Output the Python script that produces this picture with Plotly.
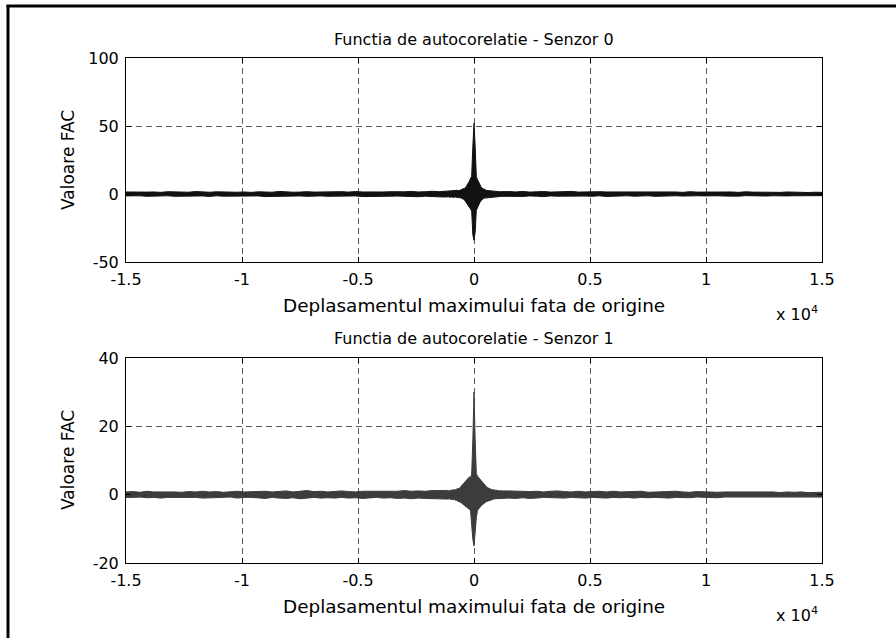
import plotly.graph_objects as go

# ---------------- data ----------------
# lag bins (samples): coarse outside the centre, finer around lag 0
lags_left = list(range(-15000, -1200, 300))      # 46 bins
lags_center = list(range(-1200, 1201, 50))       # 49 bins
lags_right = list(range(1500, 15001, 300))       # 46 bins
lags = lags_left + lags_center + lags_right

# Sensor 0 : upper / lower envelope of FAC in each bin
s0_up_left = [1.5,1.3,1.6,1.4,1.5,1.2,1.7,1.4,1.5,1.3, 1.8,1.4,1.3,1.6,1.4,1.7,1.3,1.5,1.2,1.6,
              1.4,1.3,1.9,1.5,1.3,1.4,1.7,1.4,1.6,1.3, 1.5,1.7,1.4,1.8,1.5,1.4,1.6,1.5,1.7,1.5,
              1.6,1.9,1.5,1.7,2.0,1.7]
s0_lo_left = [-1.4,-1.6,-1.3,-1.7,-1.4,-1.5,-1.3,-1.7,-1.5,-1.4, -1.6,-1.4,-1.8,-1.3,-1.6,-1.5,-1.7,-1.4,-1.5,-1.4,
              -1.9,-1.5,-1.4,-1.6,-1.5,-1.4,-1.7,-1.6,-1.4,-1.7, -1.5,-1.8,-1.5,-1.4,-1.9,-1.6,-1.5,-1.7,-1.6,-1.5,
              -1.9,-1.7,-2.0,-1.6,-1.8,-2.1]
s0_up_center = [2.1,2.3,2.0,2.4,2.2,2.3,2.1,2.5,2.3,2.4,2.7,2.4,2.8,3.1,3.0,3.6,4.3,5.0,6.2,7.6,9.4,11.5,13.0,35.0,
                52.0,
                35.0,12.5,10.6,8.6,6.8,5.3,4.2,3.6,3.1,3.0,2.6,2.5,2.6,2.2,2.4,2.0,2.2,1.9,2.1,1.8,2.0,1.7,1.9,1.7]
s0_lo_center = [-2.2,-2.4,-2.0,-2.4,-2.3,-2.1,-2.5,-2.3,-2.2,-2.6,-2.4,-2.7,-2.6,-3.0,-3.4,-3.9,-4.6,-5.5,-6.6,-8.0,-9.6,-11.0,-12.5,-30.0,
                -34.0,
                -28.0,-12.0,-10.0,-8.2,-6.4,-5.0,-4.0,-3.4,-3.0,-2.8,-2.6,-2.6,-2.3,-2.4,-2.1,-2.2,-2.0,-1.9,-2.0,-1.8,-1.9,-1.7,-1.8,-1.7]
s0_up_right = [1.8,1.5,1.9,1.4,1.6,1.8,1.4,1.7,1.5,1.9, 1.4,1.6,1.3,1.7,1.5,1.5,1.3,1.8,1.4,1.6,
               1.3,1.5,1.7,1.3,1.5,1.2,1.7,1.4,1.5,1.3, 1.6,1.3,1.5,1.2,1.6,1.4,1.3,1.5,1.3,1.2,
               1.5,1.3,1.4,1.1,1.3,1.2]
s0_lo_right = [-1.7,-1.5,-1.8,-1.4,-1.6,-1.9,-1.4,-1.6,-1.8,-1.4, -1.6,-1.5,-1.7,-1.3,-1.8,-1.4,-1.5,-1.3,-1.6,-1.5,
               -1.3,-1.7,-1.4,-1.5,-1.3,-1.5,-1.6,-1.3,-1.4,-1.5, -1.3,-1.5,-1.3,-1.6,-1.2,-1.4,-1.3,-1.5,-1.3,-1.2,
               -1.4,-1.3,-1.2,-1.3,-1.1,-1.2]

# Sensor 1
s1_up_left = [0.8,0.9,0.7,1.0,0.8,0.8,1.0,0.8,0.7,0.9, 0.8,1.0,0.8,0.9,0.7,0.8,1.0,0.8,0.9,0.8,
              1.0,0.8,0.9,1.1,0.8,1.0,1.2,0.9,1.0,0.8, 1.0,1.1,0.9,0.8,1.0,1.0,0.9,1.1,1.0,1.0,
              1.2,1.0,1.1,1.0,1.2,1.1]
s1_lo_left = [-0.8,-0.8,-0.7,-0.9,-0.8,-1.0,-0.8,-0.7,-0.9,-0.8, -0.8,-1.0,-0.8,-0.9,-0.8,-0.7,-1.0,-0.8,-0.8,-0.9,
              -1.1,-0.8,-1.0,-1.1,-0.9,-1.2,-1.0,-0.8,-1.0,-0.9, -1.0,-0.8,-1.0,-0.9,-1.1,-1.0,-0.8,-1.0,-0.9,-1.1,
              -1.0,-1.2,-1.0,-1.1,-1.3,-1.2]
s1_up_center = [1.2,1.3,1.1,1.3,1.2,1.4,1.3,1.5,1.4,1.6,1.8,1.7,2.1,2.4,2.7,3.0,3.4,3.8,4.3,4.7,5.2,5.0,6.0,16.0,
                30.0,
                16.0,6.2,5.4,5.0,4.5,4.0,3.5,3.1,2.8,2.5,2.2,2.0,1.8,1.6,1.5,1.5,1.3,1.3,1.3,1.2,1.2,1.1,1.2,1.1]
s1_lo_center = [-1.2,-1.3,-1.3,-1.2,-1.4,-1.3,-1.5,-1.4,-1.6,-1.7,-1.7,-2.0,-2.2,-2.4,-2.7,-2.9,-3.2,-3.5,-3.8,-4.0,-4.3,-4.6,-7.0,-13.0,
                -15.0,
                -12.5,-6.8,-4.6,-4.1,-3.7,-3.3,-3.0,-2.7,-2.4,-2.2,-2.0,-1.8,-1.7,-1.5,-1.4,-1.4,-1.3,-1.2,-1.2,-1.1,-1.2,-1.0,-1.1,-1.0]
s1_up_right = [1.1,1.0,1.1,0.9,1.0,0.8,1.0,1.1,0.9,0.8, 1.0,0.8,0.9,1.0,0.8,1.0,0.8,0.9,0.8,1.0,
               0.7,0.8,0.9,0.8,1.0,0.8,0.7,0.9,0.8,0.8, 0.7,0.8,0.8,0.9,0.7,0.8,0.8,0.7,0.8,0.6,
               0.8,0.7,0.8,0.6,0.7,0.7]
s1_lo_right = [-1.0,-1.1,-0.9,-1.1,-1.0,-0.8,-1.0,-0.9,-1.0,-0.8, -0.9,-1.0,-0.8,-0.9,-1.0,-0.8,-0.9,-0.8,-1.0,-0.8,
               -0.9,-0.8,-0.8,-1.0,-0.8,-0.8,-0.9,-0.7,-0.8,-0.8, -0.9,-0.7,-0.8,-0.8,-0.7,-0.8,-0.8,-0.7,-0.8,-0.6,
               -0.8,-0.7,-0.8,-0.6,-0.7,-0.7]

s0_up = s0_up_left + s0_up_center + s0_up_right
s0_lo = s0_lo_left + s0_lo_center + s0_lo_right
s1_up = s1_up_left + s1_up_center + s1_up_right
s1_lo = s1_lo_left + s1_lo_center + s1_lo_right
for arr in (s0_up, s0_lo, s1_up, s1_lo):
    assert len(arr) == len(lags), len(arr)

x_tickvals = [-15000, -10000, -5000, 0, 5000, 10000, 15000]
x_ticktext = ['-1.5', '-1', '-0.5', '0', '0.5', '1', '1.5']
y0_tickvals = [-50, 0, 50, 100]
y0_ticktext = ['-50', '0', '50', '100']
y1_tickvals = [-20, 0, 20, 40]
y1_ticktext = ['-20', '0', '20', '40']

titles = ['Functia de autocorelatie - Senzor 0', 'Functia de autocorelatie - Senzor 1']
xlabel = 'Deplasamentul maximului fata de origine'
ylabel = 'Valoare FAC'


def band(up, lo):
    """closed outline: upper envelope left->right, lower envelope right->left"""
    xs = list(lags) + list(reversed(lags)) + [lags[0]]
    ys = list(up) + list(reversed(lo)) + [up[0]]
    return xs, ys


# ---------------- layout geometry ----------------
FW, FH = 896, 638
L, R, T, B = 126, 74, 58, 75
PW, PH = FW - L - R, FH - T - B


def px(x):
    return (x - L) / PW


def py(y):
    return (FH - B - y) / PH


FONT = 'DejaVu Sans, Liberation Sans, sans-serif'
FS_TICK = 16
FS_TITLE = 16
FS_XLAB = 18.4
FS_YLAB = 17

fig = go.Figure()
x0, y0 = band(s0_up, s0_lo)
x1, y1 = band(s1_up, s1_lo)
fig.add_trace(go.Scatter(x=x0, y=y0, mode='lines', fill='toself', fillcolor='#111111',
                         line=dict(color='#111111', width=1),
                         xaxis='x', yaxis='y', hoverinfo='skip', showlegend=False))
fig.add_trace(go.Scatter(x=x1, y=y1, mode='lines', fill='toself', fillcolor='#3c3c3c',
                         line=dict(color='#3c3c3c', width=1),
                         xaxis='x2', yaxis='y2', hoverinfo='skip', showlegend=False))

axis_common = dict(showline=True, linecolor='black', linewidth=1, mirror='ticks',
                   ticks='inside', ticklen=5, tickcolor='black', tickwidth=1,
                   showgrid=True, gridcolor='rgba(0,0,0,0.65)', gridwidth=1, griddash='6px,4px',
                   zeroline=False, tickfont=dict(family=FONT, size=FS_TICK, color='black'))

d1 = [py(262), 1.0]
d2 = [0.0, py(358)]

fig.update_layout(
    width=FW, height=FH,
    margin=dict(l=L, r=R, t=T, b=B, pad=0),
    paper_bgcolor='white', plot_bgcolor='white',
    font=dict(family=FONT, size=FS_TICK, color='black'),
    xaxis=dict(domain=[0, 1], anchor='y', range=[-15000, 15000], tickmode='array',
               tickvals=x_tickvals, ticktext=x_ticktext, ticklabelstandoff=3, **axis_common),
    yaxis=dict(domain=d1, anchor='x', range=[-50, 100], tickmode='array',
               tickvals=y0_tickvals, ticktext=y0_ticktext, ticklabelstandoff=3, **axis_common),
    xaxis2=dict(domain=[0, 1], anchor='y2', range=[-15000, 15000], tickmode='array',
                tickvals=x_tickvals, ticktext=x_ticktext, ticklabelstandoff=3, **axis_common),
    yaxis2=dict(domain=d2, anchor='x2', range=[-20, 40], tickmode='array',
                tickvals=y1_tickvals, ticktext=y1_ticktext, ticklabelstandoff=3, **axis_common),
)

ann = []
def text(x, y, s, size, angle=0):
    ann.append(dict(x=px(x), y=py(y), xref='paper', yref='paper', text=s, showarrow=False,
                    xanchor='center', yanchor='middle', textangle=angle,
                    font=dict(family=FONT, size=size, color='black')))

text(474, 40, titles[0], FS_TITLE)
text(474, 305, xlabel, FS_XLAB)
text(797, 313, 'x 10<sup>4</sup>', FS_TICK)
text(68, 160, ylabel, FS_YLAB, -90)
text(474, 338, titles[1], FS_TITLE)
text(474, 606, xlabel, FS_XLAB)
text(797, 614, 'x 10<sup>4</sup>', FS_TICK)
text(68, 460, ylabel, FS_YLAB, -90)
fig.update_layout(annotations=ann)

# outer frame (left and top edges)
fig.add_shape(type='line', xref='paper', yref='paper', x0=px(8), x1=px(8), y0=py(5), y1=py(FH + 5),
              line=dict(color='black', width=3))
fig.add_shape(type='line', xref='paper', yref='paper', x0=px(6.5), x1=px(FW), y0=py(6), y1=py(6),
              line=dict(color='black', width=3))

fig.write_html('out.html')
